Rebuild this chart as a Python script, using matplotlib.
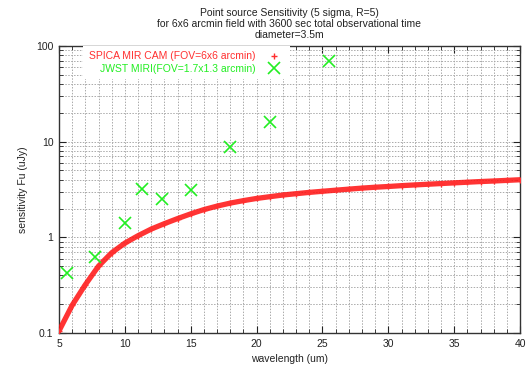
import numpy as np
import matplotlib
matplotlib.use("Agg")
import matplotlib.pyplot as plt
from matplotlib.ticker import MultipleLocator, LogLocator, NullFormatter, FixedLocator

plt.rcParams['font.family'] = ['Liberation Sans', 'DejaVu Sans']

# SPICA MIR CAM sensitivity curve (1 um steps)
spica_wl = [5, 6, 7, 8, 9, 10, 11, 12, 13, 14, 15, 16, 17, 18, 19, 20, 21, 22,
            23, 24, 25, 26, 27, 28, 29, 30, 31, 32, 33, 34, 35, 36, 37, 38, 39, 40]
spica_flux = [0.105, 0.195, 0.32, 0.50, 0.69, 0.87, 1.04, 1.22, 1.39, 1.57, 1.76,
              1.95, 2.12, 2.28, 2.42, 2.55, 2.66, 2.77, 2.86, 2.95, 3.03, 3.11,
              3.19, 3.27, 3.34, 3.40, 3.47, 3.53, 3.59, 3.65, 3.71, 3.77, 3.83,
              3.88, 3.94, 4.00]

# JWST MIRI points
jwst_wl = [5.6, 7.7, 10.0, 11.3, 12.8, 15.0, 18.0, 21.0, 25.5]
jwst_flux = [0.42, 0.63, 1.4, 3.2, 2.5, 3.1, 8.8, 16.0, 70.0]

title_lines = ["Point source Sensitivity (5 sigma, R=5)",
               "for 6x6 arcmin field with 3600 sec total observational time",
               "diameter=3.5m"]
x_ticks = [5, 10, 15, 20, 25, 30, 35, 40]
y_ticks = [0.1, 1, 10, 100]
y_ticklabels = ["0.1", "1", "10", "100"]

fig = plt.figure(figsize=(5.28, 3.71), dpi=100)
ax = fig.add_axes([0.1117, 0.1024, 0.8733, 0.7736])

ax.set_yscale('log')
ax.set_xlim(5, 40)
ax.set_ylim(0.1, 100)

ax.plot(spica_wl, spica_flux, color='#ff1010', lw=3.8, alpha=0.85,
        solid_capstyle='round', zorder=3)
ax.plot(spica_wl, spica_flux, '+', color='#ff3030', ms=4, mew=1,
        label='SPICA MIR CAM (FOV=6x6 arcmin)', zorder=4)
ax.plot(jwst_wl, jwst_flux, 'x', color='#22ee22', ms=8, mew=1.2,
        label='JWST MIRI(FOV=1.7x1.3 arcmin)', zorder=5)

ax.set_xticks(x_ticks)
ax.set_xticklabels([str(t) for t in x_ticks])
ax.xaxis.set_minor_locator(MultipleLocator(1))
ax.yaxis.set_major_locator(FixedLocator(y_ticks))
ax.set_yticklabels(y_ticklabels)
ax.yaxis.set_minor_locator(LogLocator(base=10, subs=np.arange(2, 10)))
ax.yaxis.set_minor_formatter(NullFormatter())

ax.tick_params(which='both', direction='in', top=True, right=True,
               labelsize=7.5, colors='#222222', pad=4)
ax.tick_params(which='major', length=5)
ax.tick_params(which='minor', length=3)

ax.grid(which='both', color='#aaaaaa', linestyle=(0, (1.5, 1.5)), lw=0.7)
for sp in ax.spines.values():
    sp.set_color('#333333')
    sp.set_linewidth(1.0)

ax.set_xlabel('wavelength (um)', fontsize=7.5, color='#222222', labelpad=4)
ax.set_ylabel('sensitivity Fu (uJy)', fontsize=7.5, color='#222222', labelpad=6)

fig.text(0.548, 0.978, "\n".join(title_lines), ha='center', va='top',
         fontsize=7.5, color='#222222', linespacing=1.1)

leg = ax.legend(loc='upper right', bbox_to_anchor=(0.50, 1.0), markerfirst=False,
                fontsize=7.5, frameon=True, facecolor='white', edgecolor='none',
                framealpha=1, fancybox=False, handlelength=2.0,
                borderaxespad=0.0, labelspacing=0.25, borderpad=0.5,
                handletextpad=0.8)
for txt, c in zip(leg.get_texts(), ['#ff3030', '#22ee22']):
    txt.set_color(c)
leg.set_zorder(6)

fig.savefig('out.png', dpi=100)
